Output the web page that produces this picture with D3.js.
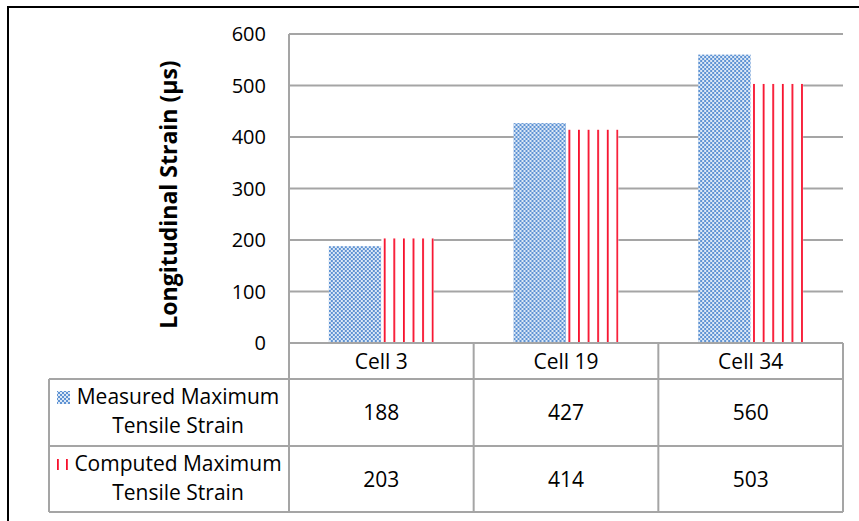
<!DOCTYPE html>
<html>
<head>
<meta charset="utf-8">
<script src="https://cdn.jsdelivr.net/npm/d3@7"></script>
<style>
  html, body { margin: 0; padding: 0; background: #fff; }
  svg { display: block; }
  text { font-family: "Open Sans", "Noto Sans", sans-serif; fill: #000; }
</style>
</head>
<body>
<svg id="chart" width="859" height="521"></svg>
<script>
// Maximum tensile strain per instrumented cell (µs)
const categories = ["Cell 3", "Cell 19", "Cell 34"];
const measured = [188, 427, 560];
const computed = [203, 414, 503];
const seriesLabels = [
  ["Measured Maximum", "Tensile Strain"],
  ["Computed Maximum", "Tensile Strain"]
];
const yTicks = [0, 100, 200, 300, 400, 500, 600];
const yTitle = "Longitudinal Strain (µs)";

(function () {
const svg = d3.select("#chart");
const gridColor = "#a5a5a5";
const blueDark = "#5f93d3";
const blueLight = "#dce8f6";
const red = "#f7102c";
const tickSize = 20;
const fontSize = 21;

// plot geometry
const plotLeft = 289, plotRight = 843, plotTop = 34, plotBottom = 343;
const tableRows = [343, 379, 446, 512];
const tableLeft = 49;

const x = d3.scaleBand().domain(categories).range([plotLeft, plotRight]).padding(0);
const barW = 52.5;
const inner = d3.scaleBand().domain(["measured", "computed"])
  .range([0, barW * 2]).padding(0);
const groupOffset = (x.bandwidth() - barW * 2) / 2;
const y = d3.scaleLinear().domain([0, 600]).range([plotBottom, plotTop]);

// outer frame
svg.append("rect")
  .attr("x", 8).attr("y", 7).attr("width", 900).attr("height", 600)
  .attr("fill", "none").attr("stroke", "#000").attr("stroke-width", 2);

// fill patterns
const defs = svg.append("defs");
const checker = defs.append("pattern")
  .attr("id", "checker").attr("patternUnits", "userSpaceOnUse")
  .attr("width", 4).attr("height", 4);
checker.append("rect").attr("width", 4).attr("height", 4).attr("fill", blueDark);
checker.append("rect").attr("x", 0).attr("y", 0).attr("width", 2).attr("height", 2).attr("fill", blueLight);
checker.append("rect").attr("x", 2).attr("y", 2).attr("width", 2).attr("height", 2).attr("fill", blueLight);

const stripeStart = x(categories[0]) + groupOffset + inner("computed");
const stripes = defs.append("pattern")
  .attr("id", "stripes").attr("patternUnits", "userSpaceOnUse")
  .attr("x", stripeStart).attr("y", 0)
  .attr("width", 9.6).attr("height", 10);
stripes.append("rect").attr("width", 9.6).attr("height", 10).attr("fill", "#fff");
stripes.append("rect").attr("x", 0).attr("width", 1.8).attr("height", 10).attr("fill", red);

const stripesKey = defs.append("pattern")
  .attr("id", "stripesKey").attr("patternUnits", "userSpaceOnUse")
  .attr("x", 57).attr("y", 0)
  .attr("width", 9).attr("height", 10);
stripesKey.append("rect").attr("width", 9).attr("height", 10).attr("fill", "#fff");
stripesKey.append("rect").attr("x", 0).attr("width", 1.8).attr("height", 10).attr("fill", red);

// gridlines
svg.append("g").selectAll("line")
  .data(yTicks.filter(d => d > 0))
  .join("line")
  .attr("x1", plotLeft).attr("x2", plotRight)
  .attr("y1", d => y(d)).attr("y2", d => y(d))
  .attr("stroke", gridColor).attr("stroke-width", 2);

// y tick labels
svg.append("g").selectAll("text")
  .data(yTicks)
  .join("text")
  .attr("x", 266).attr("y", d => y(d))
  .attr("dy", "0.36em")
  .attr("text-anchor", "end")
  .attr("font-size", tickSize)
  .text(d => d);

// y axis title
svg.append("text")
  .attr("transform", `translate(177,${(plotTop + plotBottom) / 2 + 6}) rotate(-90)`)
  .attr("text-anchor", "middle")
  .attr("font-size", 23)
  .attr("font-weight", "bold")
  .text(yTitle);

// bars
const groups = svg.append("g").selectAll("g")
  .data(categories)
  .join("g")
  .attr("transform", d => `translate(${x(d) + groupOffset},0)`);

groups.append("rect")
  .attr("x", inner("measured"))
  .attr("y", (d, i) => y(measured[i]))
  .attr("width", inner.bandwidth())
  .attr("height", (d, i) => y(0) - y(measured[i]))
  .attr("fill", "url(#checker)");

groups.append("rect")
  .attr("x", inner("computed"))
  .attr("y", (d, i) => y(computed[i]))
  .attr("width", inner.bandwidth())
  .attr("height", (d, i) => y(0) - y(computed[i]))
  .attr("fill", "url(#stripes)");

// data table grid
const tg = svg.append("g").attr("stroke", gridColor).attr("stroke-width", 2);
tg.append("line").attr("x1", plotLeft).attr("x2", plotRight).attr("y1", tableRows[0]).attr("y2", tableRows[0]);
tableRows.slice(1).forEach(r => {
  tg.append("line").attr("x1", tableLeft).attr("x2", plotRight).attr("y1", r).attr("y2", r);
});
tg.append("line").attr("x1", plotLeft).attr("x2", plotLeft).attr("y1", plotTop).attr("y2", tableRows[3]);
tg.append("line").attr("x1", tableLeft).attr("x2", tableLeft).attr("y1", tableRows[1]).attr("y2", tableRows[3]);
categories.forEach(c => {
  const xr = x(c) + x.bandwidth();
  tg.append("line").attr("x1", xr).attr("x2", xr).attr("y1", tableRows[0]).attr("y2", tableRows[3]);
});

// category header
svg.append("g").selectAll("text")
  .data(categories)
  .join("text")
  .attr("x", d => x(d) + x.bandwidth() / 2)
  .attr("y", (tableRows[0] + tableRows[1]) / 2)
  .attr("dy", "0.36em")
  .attr("text-anchor", "middle")
  .attr("font-size", fontSize)
  .text(d => d);

// value rows
[measured, computed].forEach((vals, r) => {
  const cy = (tableRows[r + 1] + tableRows[r + 2]) / 2;
  svg.append("g").selectAll("text")
    .data(vals)
    .join("text")
    .attr("x", (d, i) => x(categories[i]) + x.bandwidth() / 2)
    .attr("y", cy)
    .attr("dy", "0.36em")
    .attr("text-anchor", "middle")
    .attr("font-size", fontSize)
    .text(d => d);

  // row legend
  const base = tableRows[r + 1];
  const lg = svg.append("g");
  lg.append("rect")
    .attr("x", 57).attr("y", base + (r === 0 ? 12 : 13))
    .attr("width", 13).attr("height", r === 0 ? 13 : 11)
    .attr("fill", r === 0 ? "url(#checker)" : "url(#stripesKey)");
  lg.selectAll("text")
    .data(seriesLabels[r])
    .join("text")
    .attr("x", 178)
    .attr("y", (d, j) => base + 25 + j * 29)
    .attr("text-anchor", "middle")
    .attr("font-size", fontSize)
    .text(d => d);
});
})();
</script>
</body>
</html>
